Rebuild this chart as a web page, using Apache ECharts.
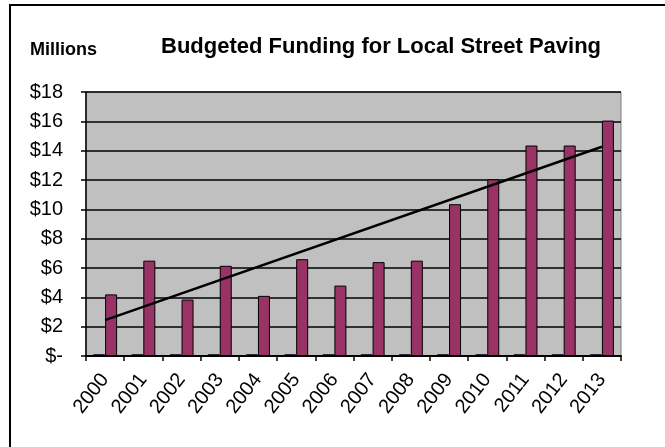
<!DOCTYPE html>
<html>
<head>
<meta charset="utf-8">
<script src="https://cdn.jsdelivr.net/npm/echarts@6.0.0/dist/echarts.min.js"></script>
<style>
  html, body { margin: 0; padding: 0; background: #fff; }
  #chart { width: 665px; height: 447px; }
</style>
</head>
<body>
<div id="chart"></div>
<script>
// data
const years = ['2000', '2001', '2002', '2003', '2004', '2005', '2006',
               '2007', '2008', '2009', '2010', '2011', '2012', '2013'];
const otherFunding = [0.12, 0.12, 0.12, 0.12, 0.12, 0.12, 0.12,
                      0.12, 0.12, 0.12, 0.12, 0.12, 0.12, 0.12];
const paving = [4.2, 6.5, 3.85, 6.15, 4.1, 6.6, 4.8,
                6.4, 6.5, 10.35, 12.05, 14.35, 14.35, 16.05];
const trendStart = 2.45;
const trendEnd = 14.27;
const yTicks = [0, 2, 4, 6, 8, 10, 12, 14, 16, 18];

const font = '"Liberation Sans", Arial, sans-serif';
const chart = echarts.init(document.getElementById('chart'));

chart.setOption({
  animation: false,
  backgroundColor: '#fff',
  graphic: [
    {
      type: 'rect',
      shape: { x: 10, y: 5, width: 700, height: 500 },
      style: { fill: 'none', stroke: '#000', lineWidth: 2 },
      silent: true
    },
    {
      type: 'text',
      left: 30,
      top: 41,
      style: { text: 'Millions', font: 'bold 18px ' + font, fill: '#000' }
    }
  ],
  title: {
    text: 'Budgeted Funding for Local Street Paving',
    left: 376,
    textAlign: 'center',
    top: 31,
    textStyle: { fontFamily: font, fontSize: 22, fontWeight: 'bold', color: '#000' }
  },
  grid: {
    left: 86, right: 44, top: 92, bottom: 91,
    show: true,
    backgroundColor: '#C0C0C0',
    borderColor: '#808080',
    borderWidth: 1
  },
  xAxis: {
    type: 'category',
    data: years,
    axisLine: { lineStyle: { color: '#000', width: 2 } },
    axisTick: { show: true, length: 5, lineStyle: { color: '#000', width: 1.5 } },
    axisLabel: {
      rotate: 52,
      margin: 20,
      fontFamily: font,
      fontSize: 20,
      color: '#000'
    }
  },
  yAxis: {
    type: 'value',
    min: yTicks[0],
    max: yTicks[yTicks.length - 1],
    interval: 2,
    axisLine: { show: true, lineStyle: { color: '#000', width: 1.5 } },
    axisTick: { show: true, length: 5, lineStyle: { color: '#000', width: 1.5 } },
    splitLine: { lineStyle: { color: '#000', width: 1.5 } },
    axisLabel: {
      margin: 23,
      fontFamily: font,
      fontSize: 20,
      color: '#000',
      formatter: v => v === 0 ? '$-' : '$' + v
    }
  },
  series: [
    {
      type: 'bar',
      data: otherFunding,
      barWidth: 12,
      barGap: '0%',
      itemStyle: { color: '#9999FF', borderColor: '#000', borderWidth: 1 }
    },
    {
      type: 'bar',
      data: paving,
      barWidth: 12,
      itemStyle: { color: '#993366', borderColor: '#000', borderWidth: 1 }
    },
    {
      type: 'line',
      data: [[years[0], trendStart], [years[years.length - 1], trendEnd]],
      symbol: 'none',
      lineStyle: { color: '#000', width: 2.5 },
      z: 5
    }
  ]
});
</script>
</body>
</html>
